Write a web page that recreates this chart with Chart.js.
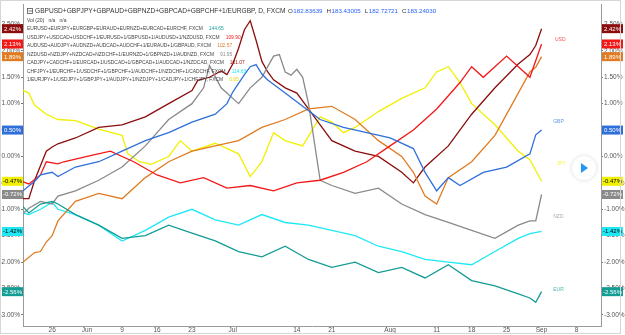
<!DOCTYPE html>
<html>
<head>
<meta charset="utf-8">
<script src="https://cdn.jsdelivr.net/npm/chart.js@4.4.1/dist/chart.umd.min.js"></script>
<style>
  html, body { margin: 0; padding: 0; background: #fff; }
  #wrap { width: 625px; height: 335px; position: relative; }
</style>
</head>
<body>
<div id="wrap"><canvas id="myChart" width="625" height="335"></canvas></div>
<script>
//bar index: 0 = 26 May (Sun), one bar per Sun..Fri
const tick_pos = [0, 6, 12, 18, 24, 31, 42, 48, 58, 66, 72, 78, 84, 90];
const tick_labels = ['26', 'Jun', '9', '16', '23', 'Jul', '14', '21', 'Aug', '11', '18', '25', 'Sep', '8'];

//percent values, [bar, %]
const gbp = [[-5,-0.65],[-3,-0.47],[-2,-0.35],[0,-0.3],[1,-0.38],[4,-0.2],[8,-0.1],[12,0.1],[16,0.3],[20,0.45],[24,0.65],[28,0.8],[30,1.0],[31,1.22],[33,1.55],[34,1.7],[35,1.74],[36,1.56],[37,1.45],[40,1.2],[43,0.95],[46,0.7],[50,0.55],[54,0.45],[58,0.35],[62,0.15],[64,-0.3],[66,-0.65],[68,-0.4],[70,-0.55],[74,-0.3],[78,-0.2],[82,0.05],[83,0.41],[84,0.5]];
const eur = [[-5,-0.95],[-4,-1.07],[-2,-0.9],[0,-0.85],[1,-0.9],[4,-1.1],[8,-1.3],[12,-1.55],[16,-1.5],[20,-1.3],[24,-1.45],[28,-1.6],[32,-1.8],[36,-1.9],[40,-1.7],[44,-1.95],[48,-2.1],[52,-2.0],[56,-2.2],[60,-2.1],[64,-2.3],[68,-2.05],[72,-2.35],[76,-2.45],[80,-2.6],[82,-2.68],[83,-2.76],[84,-2.56]];
const usd = [[-5,-0.48],[-4,-0.52],[-2,-0.35],[-1,-0.1],[1,-0.14],[2,-0.1],[6,0.0],[10,0.1],[14,-0.1],[18,-0.35],[22,-0.5],[26,-0.4],[30,-0.6],[34,-0.55],[38,-0.65],[42,-0.5],[46,-0.45],[50,-0.3],[54,-0.1],[58,0.2],[62,0.5],[66,0.9],[70,1.4],[72,1.7],[74,1.5],[78,1.9],[82,1.5],[84,2.13]];
const aud = [[-5,-2.0],[-3,-1.82],[-2,-1.8],[-1,-1.62],[0,-1.5],[1,-1.22],[4,-0.85],[8,-0.7],[12,-0.8],[16,-0.4],[20,-0.1],[24,0.1],[28,0.2],[32,0.3],[36,0.55],[40,0.7],[44,0.9],[48,0.95],[52,0.7],[56,0.3],[60,0.0],[62,-0.3],[64,-0.75],[66,-0.9],[68,-0.4],[72,-0.1],[76,0.4],[80,1.2],[82,1.6],[83,1.69],[84,1.89]];
const nzd = [[-5,-1.08],[-4,-0.98],[-2,-0.85],[0,-0.9],[1,-0.75],[4,-0.65],[8,-0.45],[12,-0.2],[16,0.2],[20,0.7],[24,1.0],[26,1.3],[27,1.72],[29,1.3],[32,1.0],[34,1.3],[36,1.5],[38,1.9],[39,1.93],[40,1.6],[41,1.54],[42,1.65],[43,1.5],[44,1.0],[46,-0.45],[48,-0.55],[52,-0.7],[56,-0.6],[60,-0.9],[64,-1.1],[68,-1.25],[72,-1.4],[76,-1.55],[80,-1.3],[82,-1.22],[83,-1.22],[84,-0.72]];
const cad = [[-5,-0.8],[-4,-0.8],[-3,-0.45],[-1,0.1],[0,0.18],[1,0.24],[4,0.35],[8,0.55],[12,0.6],[16,0.75],[20,1.0],[24,1.25],[25,1.44],[27,1.5],[29,1.62],[30,1.55],[31,1.75],[32,2.05],[33,2.4],[34,2.57],[35,2.2],[36,1.8],[37,1.6],[38,1.45],[40,1.3],[42,1.2],[44,0.9],[46,0.6],[48,0.3],[52,0.1],[56,0.0],[60,-0.3],[62,-0.5],[64,-0.2],[68,0.2],[72,0.8],[76,1.3],[80,1.75],[82,1.93],[83,2.1],[84,2.42]];
const chf = [[-5,-1.07],[-4,-1.1],[-2,-1.0],[0,-0.87],[1,-1.0],[4,-1.1],[8,-1.3],[12,-1.6],[16,-1.4],[20,-1.15],[24,-1.0],[28,-1.2],[32,-1.3],[36,-1.1],[40,-1.25],[44,-1.3],[48,-1.4],[52,-1.5],[56,-1.7],[60,-1.8],[64,-1.95],[68,-2.0],[72,-2.05],[76,-1.8],[80,-1.55],[82,-1.46],[84,-1.42]];
const jpy = [[-5,1.25],[-4,1.2],[-3,0.97],[-1,0.8],[1,0.7],[4,0.68],[8,0.52],[12,0.4],[13,0.05],[15,-0.1],[17,-0.15],[20,0.0],[22,0.3],[24,0.1],[28,0.25],[32,0.05],[34,-0.38],[36,-0.1],[38,0.45],[40,0.3],[43,0.2],[46,0.75],[48,0.65],[50,0.45],[52,0.55],[56,0.85],[60,1.1],[64,1.3],[66,1.6],[68,1.7],[70,1.4],[72,1.0],[76,0.6],[80,0.1],[82,-0.06],[84,-0.47]];

const series_names = ['GBP', 'EUR', 'USD', 'AUD', 'NZD', 'CAD', 'CHF', 'JPY'];
const series_data = [gbp, eur, usd, aud, nzd, cad, chf, jpy];
const series_colors = ['#2f6fdb', '#129c94', '#f21818', '#e07b22', '#8a8a8a', '#8b0d0d', '#1ee8f5', '#f0f000'];
const label_text_colors = ['#fff', '#fff', '#fff', '#fff', '#fff', '#fff', '#000', '#000'];

//names written at the right end of some lines, [name, bar, %]
const end_names = [['USD', 86.3, 2.21], ['GBP', 86, 0.66], ['JPY', 86.6, -0.13], ['NZD', 86, -1.14], ['EUR', 86, -2.53]];

//legend lines
const title_text = 'GBPUSD+GBPJPY+GBPAUD+GBPNZD+GBPCAD+GBPCHF+1/EURGBP, D, FXCM';
const ohlc = [['O', '182.83639'], ['H', '183.43005'], ['L', '182.72721'], ['C', '183.24030']];
const legend_rows = [
  ['EURUSD+EURJPY+EURGBP+EURAUD+EURNZD+EURCAD+EURCHF, FXCM', '144.65', '#16a39a'],
  ['USDJPY+USDCAD+USDCHF+1/EURUSD+1/GBPUSD+1/AUDUSD+1/NZDUSD, FXCM', '109.90', '#f21818'],
  ['AUDUSD+AUDJPY+AUDNZD+AUDCAD+AUDCHF+1/EURAUD+1/GBPAUD, FXCM', '102.57', '#e07b22'],
  ['NZDUSD+NZDJPY+NZDCAD+NZDCHF+1/EURNZD+1/GBPNZD+1/AUDNZD, FXCM', '91.95', '#8a8a8a'],
  ['CADJPY+CADCHF+1/EURCAD+1/USDCAD+1/GBPCAD+1/AUDCAD+1/NZDCAD, FXCM', '101.07', '#9b1010'],
  ['CHFJPY+1/EURCHF+1/USDCHF+1/GBPCHF+1/AUDCHF+1/NZDCHF+1/CADCHF, FXCM', '114.63', '#1ee8f5'],
  ['1/EURJPY+1/USDJPY+1/GBPJPY+1/AUDJPY+1/NZDJPY+1/CADJPY+1/CHFJPY, FXCM', '0.95', '#e6d800']
];

//build datasets
const datasets = [];
for (let i = 0; i < series_data.length; i++) {
  datasets.push({
    label: series_names[i],
    data: series_data[i].map(p => ({x: p[0], y: p[1]})),
    borderColor: series_colors[i],
    borderWidth: 1.3,
    pointRadius: 0,
    tension: 0,
    order: i == 0 ? 0 : 1
  });
}

const fmt = v => v.toFixed(2) + '%';
const axisFont = {family: 'Liberation Sans', size: 6.5};

//text, frame and value labels drawn over the chart
const decor = {
  id: 'decor',
  afterDatasetsDraw(chart) {
    const ctx = chart.ctx;
    const ys = chart.scales.y;
    const xs = chart.scales.x;
    ctx.save();

    //names near line ends
    ctx.font = '5px "Liberation Sans"';
    ctx.textBaseline = 'middle';
    ctx.globalAlpha = 0.75;
    end_names.forEach(n => {
      const k = series_names.indexOf(n[0]);
      ctx.fillStyle = series_colors[k];
      ctx.fillText(n[0], xs.getPixelForValue(n[1]), ys.getPixelForValue(n[2]));
    });
    ctx.globalAlpha = 1;

    //title
    ctx.textBaseline = 'middle';
    ctx.strokeStyle = '#555';
    ctx.lineWidth = 0.8;
    ctx.strokeRect(27.5, 8.5, 5, 5);
    ctx.beginPath(); ctx.moveTo(28.5, 11); ctx.lineTo(32, 11); ctx.stroke();
    ctx.font = '6.6px "Liberation Sans"';
    ctx.fillStyle = '#333';
    ctx.fillText(title_text, 35, 11.5);
    let x = 288;
    ohlc.forEach(o => {
      ctx.fillStyle = '#333';
      ctx.font = '6.2px "Liberation Sans"';
      ctx.fillText(o[0], x, 11.5);
      x += ctx.measureText(o[0]).width + 0.5;
      ctx.fillStyle = '#2962ff';
      ctx.fillText(o[1], x, 11.5);
      x += ctx.measureText(o[1]).width + 4;
    });
    ctx.font = '5px "Liberation Sans"';
    ctx.fillStyle = '#444';
    ctx.fillText('Vol (20)   n/a   n/a', 27, 20.5);
    legend_rows.forEach((r, i) => {
      const yy = 29 + i * 8.5;
      ctx.font = '4.9px "Liberation Sans"';
      ctx.fillStyle = '#444';
      ctx.fillText(r[0], 27, yy);
      const w = ctx.measureText(r[0]).width;
      ctx.fillStyle = r[2];
      ctx.fillText(r[1], 27 + w + 6, yy);
    });

    //value boxes on both price axes
    ctx.font = '6px "Liberation Sans"';
    ctx.textAlign = 'center';
    for (let i = 0; i < series_data.length; i++) {
      const d = series_data[i];
      const v = d[d.length - 1][1];
      const py = ys.getPixelForValue(v);
      ctx.fillStyle = series_colors[i];
      ctx.fillRect(2, py - 4.5, 21, 9);
      ctx.fillRect(602, py - 4.5, 21, 9);
      ctx.fillStyle = label_text_colors[i];
      ctx.fillText(fmt(v), 12.5, py + 0.3);
      ctx.fillText(fmt(v), 612.5, py + 0.3);
    }

    //round play button
    ctx.shadowColor = 'rgba(0,0,0,0.15)';
    ctx.shadowBlur = 4;
    ctx.fillStyle = '#fff';
    ctx.beginPath(); ctx.arc(584, 168, 12, 0, Math.PI * 2); ctx.fill();
    ctx.shadowBlur = 0;
    ctx.fillStyle = '#2196f3';
    ctx.beginPath(); ctx.moveTo(581, 163); ctx.lineTo(588, 168); ctx.lineTo(581, 173); ctx.closePath(); ctx.fill();

    //outer frame
    ctx.strokeStyle = '#d6d6d6';
    ctx.lineWidth = 1;
    ctx.strokeRect(0.5, 0.5, 620, 333);
    ctx.restore();
  }
};

const ctx = document.getElementById('myChart').getContext('2d');
const chart = new Chart(ctx, {
  type: 'line',
  data: { datasets: datasets },
  options: {
    responsive: false,
    animation: false,
    layout: { padding: { top: 2, left: 0, right: 0, bottom: 0 } },
    plugins: { legend: { display: false }, tooltip: { enabled: false } },
    scales: {
      x: {
        type: 'linear',
        min: -5,
        max: 94.2,
        afterBuildTicks: s => { s.ticks = tick_pos.map(v => ({value: v})); },
        afterFit: s => { s.height = 9; },
        ticks: {
          autoSkip: false,
          maxRotation: 0,
          padding: 0,
          color: '#555',
          font: axisFont,
          callback: v => tick_labels[tick_pos.indexOf(v)]
        },
        grid: { display: true, drawOnChartArea: false, drawTicks: false },
        border: { display: true, color: '#9a9a9a' }
      },
      y: {
        position: 'left',
        min: -3.21,
        max: 2.87,
        afterFit: s => { s.width = 23; },
        ticks: { stepSize: 0.5, includeBounds: false, color: '#555', font: axisFont, padding: 1, callback: fmt },
        grid: { display: true, drawOnChartArea: false, tickLength: 2, color: '#777' },
        border: { display: true, color: '#9a9a9a' }
      },
      y2: {
        position: 'right',
        min: -3.21,
        max: 2.87,
        afterFit: s => { s.width = 24; },
        ticks: { stepSize: 0.5, includeBounds: false, color: '#555', font: axisFont, padding: 1, callback: fmt },
        grid: { display: true, drawOnChartArea: false, tickLength: 2, color: '#777' },
        border: { display: true, color: '#9a9a9a' }
      }
    }
  },
  plugins: [decor]
});
</script>
</body>
</html>
